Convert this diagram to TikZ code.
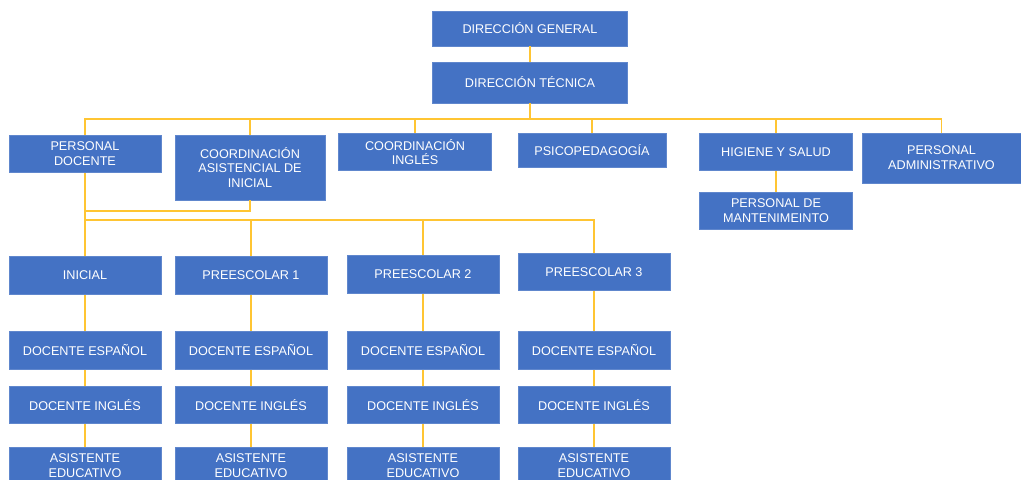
\documentclass[tikz,border=0pt]{standalone}
\usepackage{fontspec}
\setmainfont{Liberation Sans}
\definecolor{cajaazul}{HTML}{4472C4}
\definecolor{lineaamarilla}{HTML}{FFC533}
\begin{document}
\begin{tikzpicture}[
    x=0.02cm, y=-0.02cm,
    cargo/.style={rectangle, fill=cajaazul, draw=cajaazul!85!white, line width=0.4pt,
      text=white, align=center, inner sep=1pt,
      font=\fontsize{7.2}{8.4}\selectfont, minimum width=3.04cm, minimum height=0.75cm},
    enlace/.style={draw=lineaamarilla, line width=1pt}
  ]
    \useasboundingbox (0,0) rectangle (1021,480);

    % Direccion
    \node[cargo, minimum width=3.9cm, minimum height=0.7cm] (dg) at (530,28.5) {DIRECCIÓN GENERAL};
    \node[cargo, minimum width=3.9cm, minimum height=0.82cm] (dt) at (530,82.5) {DIRECCIÓN TÉCNICA};

    % Segundo nivel
    \node[cargo] (pd) at (85,154) {PERSONAL\\DOCENTE};
    \node[cargo, minimum width=3.0cm, minimum height=1.3cm] (cai) at (250,167.5) {COORDINACIÓN\\ASISTENCIAL DE\\INICIAL};
    \node[cargo, minimum width=3.06cm] (ci) at (415,152) {COORDINACIÓN\\INGLÉS};
    \node[cargo, minimum width=2.96cm, minimum height=0.68cm] (psi) at (592,150) {PSICOPEDAGOGÍA};
    \node[cargo, minimum width=3.06cm] (hs) at (776,152) {HIGIENE Y SALUD};
    \node[cargo, minimum width=3.06cm] (pm) at (776,211) {PERSONAL DE\\MANTENIMEINTO};
    \node[cargo, minimum width=3.18cm, minimum height=1.0cm] (pa) at (941.5,158) {PERSONAL\\ADMINISTRATIVO};

    % Niveles y personal por nivel
    \foreach \i/\x/\y/\nombre in {1/85/275.5/INICIAL, 2/251/275.5/PREESCOLAR 1,
                                  3/423/274.5/PREESCOLAR 2, 4/594/272/PREESCOLAR 3} {
      \node[cargo] (nivel\i) at (\x,\y) {\nombre};
      \node[cargo] (esp\i) at (\x,350.5) {DOCENTE ESPAÑOL};
      \node[cargo] (ing\i) at (\x,405) {DOCENTE INGLÉS};
      \node[cargo] (asis\i) at (\x,466) {ASISTENTE\\EDUCATIVO};
    }

    % Conexiones
    \coordinate (bus1) at (530,119);
    \coordinate (bus2) at (250,211);
    \coordinate (bus3) at (85,220);
    \draw[enlace] (dg) -- (dt);
    \draw[enlace] (dt) -- (bus1);
    \foreach \n in {pd,cai,ci,psi,hs,pa}
      \draw[enlace] (bus1) -| (\n.north);
    \draw[enlace] (hs) -- (pm);
    \draw[enlace] (pd.south) |- (bus2) -- (cai.south);
    \foreach \i in {1,2,3,4}
      \draw[enlace] (bus3) -| (nivel\i.north);
    \draw[enlace] (pd.south) -- (bus3);
    \foreach \i in {1,2,3,4}
      \draw[enlace] (nivel\i) -- (esp\i) -- (ing\i) -- (asis\i);

  \end{tikzpicture}
\end{document}
